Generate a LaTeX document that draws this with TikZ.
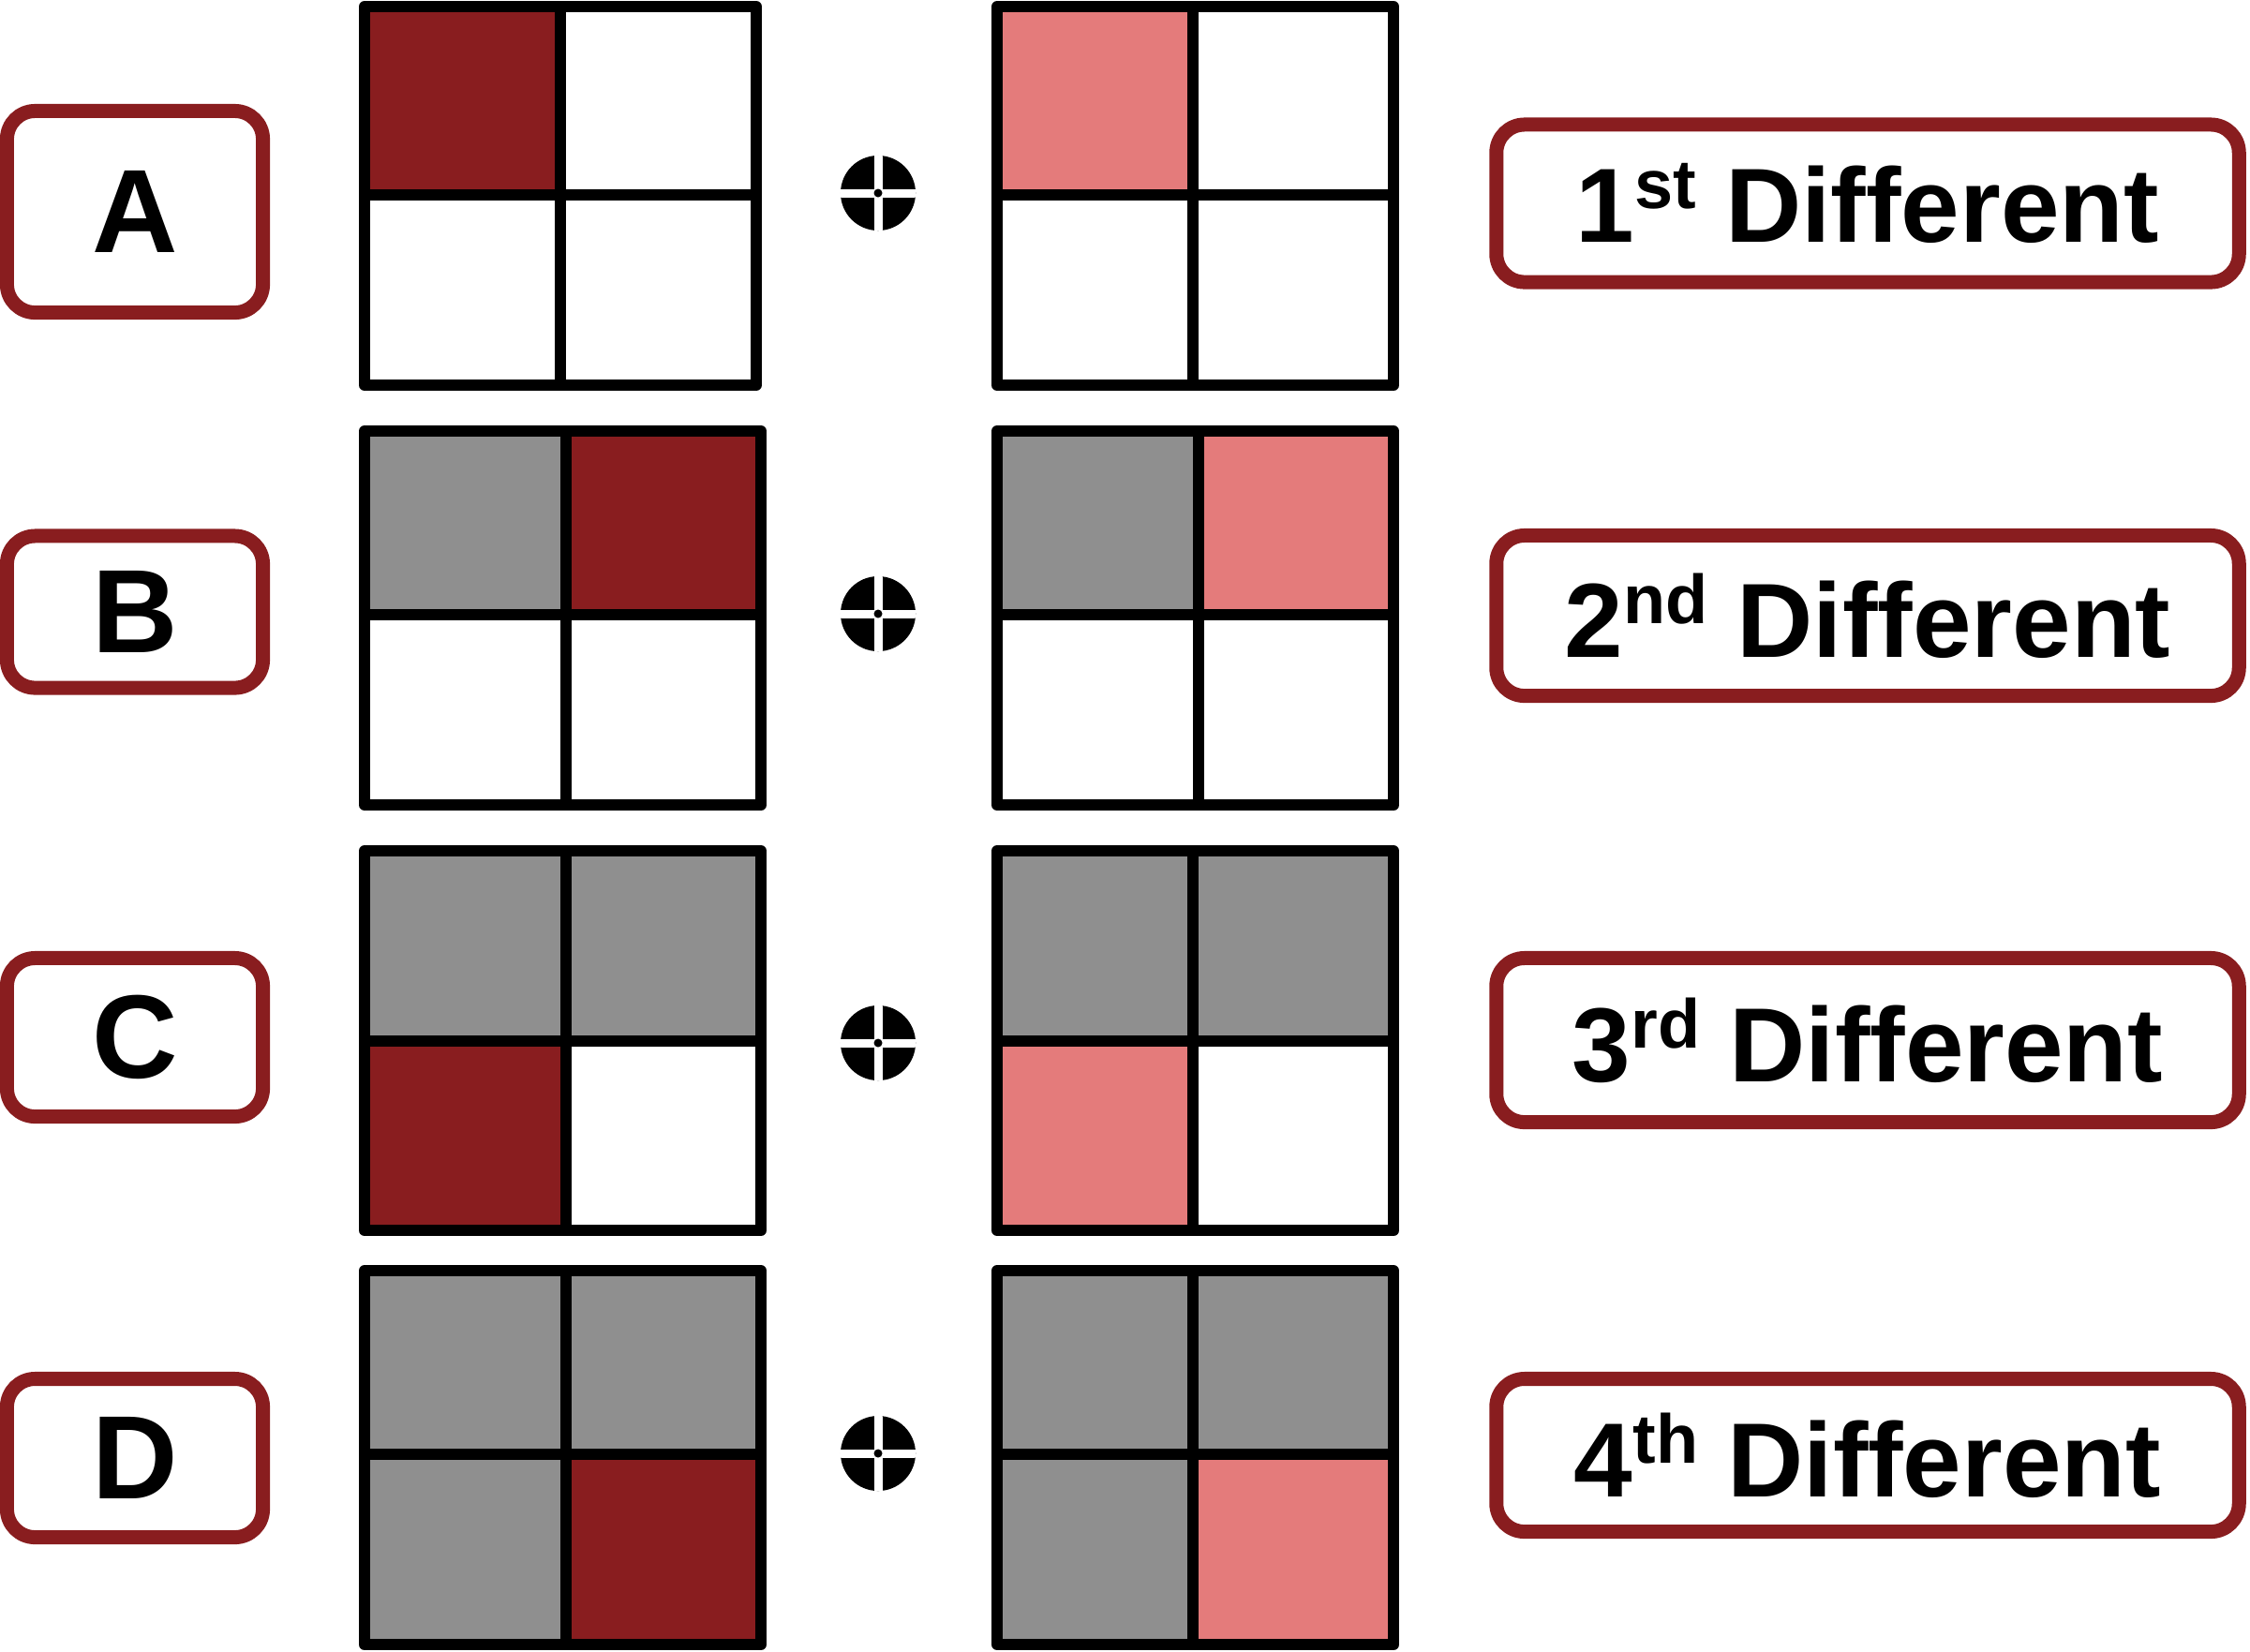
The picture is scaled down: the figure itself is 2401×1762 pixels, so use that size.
\documentclass[tikz,border=0pt]{standalone}
\usepackage{fontspec}
\setmainfont{Liberation Sans}
\usepackage{tikz}

\definecolor{darkred}{HTML}{891D1F}
\definecolor{lightred}{HTML}{E47B7B}
\definecolor{cellgray}{HTML}{8F8F8F}
\newcommand{\ordsup}[1]{\raisebox{0.36cm}{\fontsize{21}{21}\selectfont #1}}

\begin{document}
\begin{tikzpicture}[x=0.01cm, y=-0.01cm,
    letterbox/.style ={draw=darkred, line width=0.15cm, rounded corners=0.3cm, fill=white,
       minimum width=2.73cm, inner sep=0pt, font=\fontsize{36}{36}\selectfont\bfseries},
    diffbox/.style ={draw=darkred, line width=0.15cm, rounded corners=0.3cm, fill=white,
       minimum width=7.92cm, inner sep=0pt, font=\fontsize{32}{32}\selectfont\bfseries},
    gridline/.style ={line width=0.12cm, line join=round},
    crosshair/.style ={circle, fill=black, minimum size=0.8cm, inner sep=0pt,
       path picture={\draw[white, line width=0.09cm]
          (path picture bounding box.north) -- (path picture bounding box.south)
          (path picture bounding box.west) -- (path picture bounding box.east);
          \fill[black] (path picture bounding box.center) circle (0.045cm);}}]
   \useasboundingbox (0,0) rectangle (2401,1762);

   % row A
   \fill[darkred] (389,7) rectangle (598,208);
   \draw[gridline] (389,7) rectangle (807,411) (598,7) -- (598,411) (389,208) -- (807,208);
   \fill[lightred] (1064,7) rectangle (1273,208);
   \draw[gridline] (1064,7) rectangle (1487,411) (1273,7) -- (1273,411) (1064,208) -- (1487,208);
   \node[crosshair] (xa) at (937,206) {};
   \node[letterbox, minimum height=2.15cm] (A) at (144,226) {A};
   \node[diffbox, minimum height=1.68cm] (d1) at (1993,217) {1\ordsup{st} Different};

   % row B
   \fill[cellgray] (389,460) rectangle (604,656);
   \fill[darkred] (604,460) rectangle (812,656);
   \draw[gridline] (389,460) rectangle (812,859) (604,460) -- (604,859) (389,656) -- (812,656);
   \fill[cellgray] (1064,460) rectangle (1279,656);
   \fill[lightred] (1279,460) rectangle (1487,656);
   \draw[gridline] (1064,460) rectangle (1487,859) (1279,460) -- (1279,859) (1064,656) -- (1487,656);
   \node[crosshair] (xb) at (937,655) {};
   \node[letterbox, minimum height=1.62cm] (B) at (144,653) {B};
   \node[diffbox, minimum height=1.71cm] (d2) at (1993,657) {2\ordsup{nd} Different};

   % row C
   \fill[cellgray] (389,908) rectangle (812,1111);
   \fill[darkred] (389,1111) rectangle (604,1313);
   \draw[gridline] (389,908) rectangle (812,1313) (604,908) -- (604,1313) (389,1111) -- (812,1111);
   \fill[cellgray] (1064,908) rectangle (1487,1111);
   \fill[lightred] (1064,1111) rectangle (1273,1313);
   \draw[gridline] (1064,908) rectangle (1487,1313) (1273,908) -- (1273,1313) (1064,1111) -- (1487,1111);
   \node[crosshair] (xc) at (937,1113) {};
   \node[letterbox, minimum height=1.69cm] (C) at (144,1107) {C};
   \node[diffbox, minimum height=1.75cm] (d3) at (1993,1110) {3\ordsup{rd} Different};

   % row D
   \fill[cellgray] (389,1356) rectangle (812,1552) (389,1552) rectangle (604,1755);
   \fill[darkred] (604,1552) rectangle (812,1755);
   \draw[gridline] (389,1356) rectangle (812,1755) (604,1356) -- (604,1755) (389,1552) -- (812,1552);
   \fill[cellgray] (1064,1356) rectangle (1487,1552) (1064,1552) rectangle (1273,1755);
   \fill[lightred] (1273,1552) rectangle (1487,1755);
   \draw[gridline] (1064,1356) rectangle (1487,1755) (1273,1356) -- (1273,1755) (1064,1552) -- (1487,1552);
   \node[crosshair] (xd) at (937,1551) {};
   \node[letterbox, minimum height=1.69cm] (D) at (144,1556) {D};
   \node[diffbox, minimum height=1.63cm] (d4) at (1993,1553) {4\ordsup{th} Different};
 \end{tikzpicture}
\end{document}
